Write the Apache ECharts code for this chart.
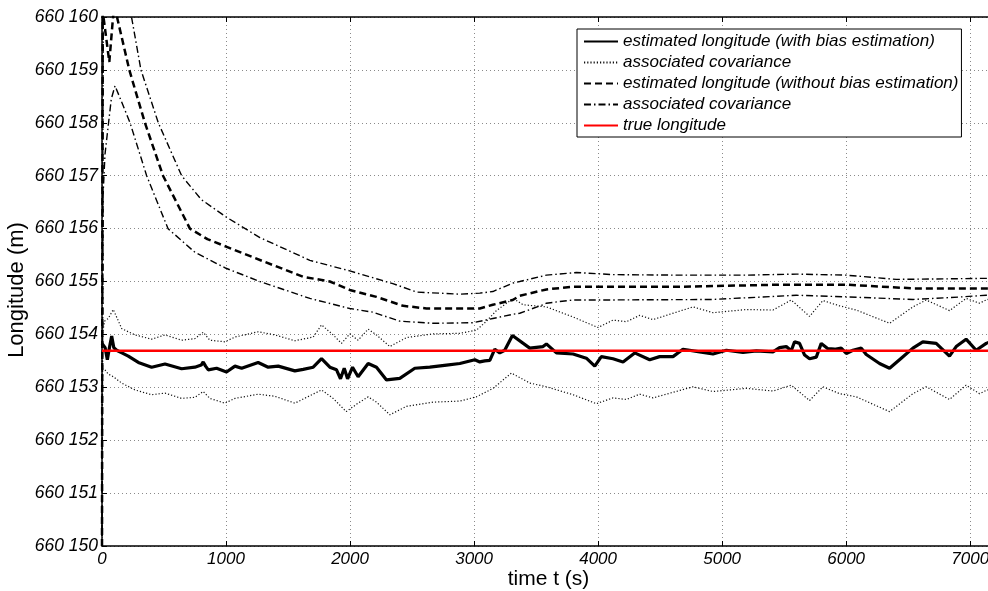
<!DOCTYPE html>
<html>
<head>
<meta charset="utf-8">
<script src="https://cdn.jsdelivr.net/npm/echarts@6/dist/echarts.min.js"></script>
<style>
  html, body { margin: 0; padding: 0; background: #fff; }
  #chart { width: 988px; height: 591px; }
</style>
</head>
<body>
<div id="chart"></div>
<script>
// ---- data: [time t (s), longitude (m)] ----
const withBias = [[0,660153.83],[25,660153.75],[43,660153.52],[60,660153.75],[78,660153.97],[95,660153.75],[118,660153.70],[160,660153.65],[212,660153.59],[293,660153.47],[400,660153.38],[508,660153.44],[642,660153.35],[749,660153.38],[800,660153.42],[816,660153.48],[835,660153.40],[857,660153.33],[924,660153.36],[1004,660153.29],[1072,660153.40],[1126,660153.36],[1259,660153.47],[1340,660153.38],[1421,660153.40],[1555,660153.31],[1622,660153.34],[1703,660153.38],[1770,660153.54],[1837,660153.38],[1891,660153.33],[1923,660153.16],[1953,660153.36],[1980,660153.16],[2020,660153.38],[2065,660153.20],[2146,660153.45],[2213,660153.38],[2294,660153.14],[2401,660153.17],[2522,660153.36],[2643,660153.38],[2778,660153.42],[2885,660153.45],[3006,660153.52],[3046,660153.48],[3086,660153.50],[3127,660153.51],[3167,660153.72],[3207,660153.65],[3247,660153.70],[3309,660153.98],[3449,660153.74],[3556,660153.77],[3583,660153.82],[3664,660153.65],[3798,660153.63],[3905,660153.55],[3973,660153.40],[4026,660153.58],[4120,660153.54],[4201,660153.48],[4295,660153.65],[4416,660153.52],[4496,660153.58],[4604,660153.58],[4684,660153.72],[4819,660153.67],[4926,660153.63],[5034,660153.70],[5168,660153.66],[5276,660153.69],[5410,660153.67],[5463,660153.75],[5517,660153.77],[5557,660153.69],[5584,660153.86],[5624,660153.83],[5665,660153.61],[5705,660153.54],[5759,660153.57],[5799,660153.83],[5853,660153.73],[5907,660153.72],[5960,660153.74],[6001,660153.64],[6054,660153.70],[6122,660153.74],[6162,660153.62],[6269,660153.45],[6350,660153.36],[6444,660153.55],[6538,660153.74],[6618,660153.86],[6726,660153.83],[6766,660153.74],[6833,660153.59],[6887,660153.77],[6967,660153.91],[7048,660153.70],[7129,660153.83],[7200,660153.90]];

const covWithUpper = [[0,660153.95],[20,660154.25],[50,660154.30],[91,660154.47],[159,660154.11],[266,660153.99],[400,660153.91],[508,660153.99],[642,660153.89],[749,660153.92],[816,660154.04],[870,660153.89],[991,660153.86],[1072,660153.95],[1259,660154.05],[1394,660153.99],[1555,660153.88],[1703,660153.95],[1770,660154.18],[1864,660153.99],[1931,660153.83],[1998,660154.01],[2065,660153.89],[2146,660154.10],[2213,660153.99],[2321,660153.77],[2455,660153.94],[2670,660154.01],[2885,660154.02],[3019,660154.08],[3100,660154.25],[3180,660154.45],[3315,660154.68],[3395,660154.56],[3583,660154.52],[3798,660154.33],[3999,660154.13],[4120,660154.27],[4228,660154.24],[4335,660154.36],[4443,660154.28],[4765,660154.52],[4926,660154.41],[5195,660154.47],[5410,660154.46],[5557,660154.65],[5705,660154.34],[5812,660154.64],[5947,660154.54],[6082,660154.46],[6350,660154.21],[6538,660154.52],[6645,660154.65],[6833,660154.45],[6967,660154.68],[7075,660154.59],[7129,660154.65],[7200,660154.70]];

const covWithLower = [[0,660153.35],[24,660153.33],[50,660153.25],[91,660153.20],[159,660153.08],[266,660152.95],[400,660152.86],[508,660152.89],[642,660152.79],[749,660152.81],[816,660152.92],[870,660152.79],[991,660152.70],[1072,660152.79],[1259,660152.87],[1394,660152.83],[1555,660152.70],[1770,660152.95],[1864,660152.79],[1969,660152.54],[2065,660152.70],[2146,660152.82],[2213,660152.72],[2321,660152.48],[2455,660152.64],[2670,660152.72],[2885,660152.74],[3019,660152.82],[3153,660152.98],[3301,660153.27],[3449,660153.08],[3583,660153.01],[3798,660152.86],[3986,660152.69],[4120,660152.80],[4228,660152.77],[4335,660152.87],[4443,660152.80],[4765,660153.01],[4926,660152.92],[5195,660152.98],[5410,660152.93],[5557,660153.04],[5705,660152.75],[5812,660153.01],[5947,660152.88],[6082,660152.82],[6350,660152.54],[6538,660152.88],[6645,660153.01],[6833,660152.77],[6967,660153.04],[7075,660152.88],[7129,660152.94],[7200,660153.00]];

const withoutBias = [[0,660150.0],[6,660160.5],[12,660160.0],[59,660159.15],[89,660160.0],[105,660160.3],[121,660160.0],[220,660159.0],[346,660158.0],[492,660157.0],[709,660156.0],[850,660155.80],[1000,660155.66],[1313,660155.37],[1620,660155.09],[1837,660155.0],[1998,660154.84],[2213,660154.71],[2428,660154.54],[2616,660154.49],[2939,660154.49],[3046,660154.49],[3151,660154.56],[3312,660154.65],[3368,660154.73],[3583,660154.85],[3795,660154.90],[3986,660154.90],[4658,660154.90],[5463,660154.94],[6001,660154.94],[6539,660154.87],[7129,660154.87],[7200,660154.87]];

const covWithoutUpper = [[0,660150.0],[4,660155.0],[10,660160.5],[238,660160.0],[314,660159.0],[454,660158.0],[642,660157.0],[800,660156.55],[1000,660156.22],[1273,660155.83],[1676,660155.40],[1998,660155.20],[2345,660154.96],[2538,660154.80],[2885,660154.76],[3046,660154.78],[3151,660154.81],[3312,660154.97],[3368,660155.0],[3583,660155.12],[3825,660155.17],[4118,660155.13],[4658,660155.12],[5195,660155.12],[5598,660155.14],[6001,660155.12],[6404,660155.04],[6807,660155.05],[7129,660155.06],[7200,660155.06]];

const covWithoutLower = [[0,660150.0],[8,660156.6],[24,660157.4],[48,660157.9],[75,660158.45],[105,660158.7],[140,660158.5],[226,660158.0],[360,660157.0],[532,660156.0],[750,660155.55],[1000,660155.25],[1273,660155.0],[1676,660154.68],[1998,660154.49],[2184,660154.42],[2401,660154.25],[2668,660154.21],[2990,660154.22],[3151,660154.30],[3312,660154.38],[3368,660154.40],[3554,660154.56],[3583,660154.59],[3795,660154.65],[3986,660154.65],[4924,660154.66],[5598,660154.74],[6001,660154.71],[6539,660154.66],[6938,660154.71],[7129,660154.74],[7200,660154.74]];

const trueLongitude = [[0,660153.69],[7200,660153.69]];

const legendNames = [
  'estimated longitude (with bias estimation)',
  'associated covariance',
  'estimated longitude (without bias estimation)',
  'associated covariance ',
  'true longitude'
];
const xLabel = 'time t (s)';
const yLabel = 'Longitude (m)';

// ---- chart ----
const FONT = '"Liberation Sans", Arial, Helvetica, sans-serif';
const chart = echarts.init(document.getElementById('chart'), null, { renderer: 'canvas' });

function line(name, data, width, type, color, z) {
  return {
    type: 'line', name: name, data: data, showSymbol: false, symbol: 'none',
    animation: false, clip: true, z: z || 2,
    lineStyle: { width: width, type: type, color: color },
    itemStyle: { color: color },
    emphasis: { disabled: true }
  };
}

const option = {
  animation: false,
  backgroundColor: '#fff',
  grid: { left: 102, top: 17, width: 893, height: 529, containLabel: false, outerBoundsMode: 'none' },
  xAxis: [{
    type: 'value', min: 0, max: 7200, interval: 1000,
    name: xLabel, nameLocation: 'middle', nameGap: 23, nameMoveOverlap: false,
    nameTextStyle: { fontFamily: FONT, fontSize: 21, color: '#000' },
    axisLine: { show: true, lineStyle: { color: '#000', width: 1.5 } },
    axisTick: { show: true, inside: true, length: 5, lineStyle: { color: '#000', width: 1 } },
    axisLabel: {
      fontFamily: FONT, fontStyle: 'italic', fontSize: 17, color: '#000', margin: 5,
      formatter: function (v) { return String(Math.round(v)); }
    },
    splitLine: { show: true, lineStyle: { color: '#8a8a8a', width: 1, type: [1, 3] } }
  }, {
    type: 'value', position: 'top', min: 0, max: 7200, interval: 1000,
    axisLine: { show: true, lineStyle: { color: '#000', width: 1.5 } },
    axisTick: { show: true, inside: true, length: 5, lineStyle: { color: '#000', width: 1 } },
    axisLabel: { show: false },
    splitLine: { show: false }
  }],
  yAxis: {
    type: 'value', min: 660150, max: 660160, interval: 1,
    name: yLabel, nameLocation: 'middle', nameGap: 74, nameRotate: 90, nameMoveOverlap: false,
    nameTextStyle: { fontFamily: FONT, fontSize: 22, color: '#000', padding: [0, 17, 0, 0] },
    axisLine: { show: true, lineStyle: { color: '#000', width: 1.5 } },
    axisTick: { show: true, inside: true, length: 5, lineStyle: { color: '#000', width: 1 } },
    axisLabel: {
      fontFamily: FONT, fontStyle: 'italic', fontSize: 17.5, color: '#000', margin: 4,
      formatter: function (v) { const s = String(Math.round(v)); return s.slice(0, 3) + ' ' + s.slice(3); }
    },
    splitLine: { show: true, lineStyle: { color: '#8a8a8a', width: 1, type: [1, 3] } }
  },
  legend: {
    data: legendNames,
    orient: 'vertical', left: 577, top: 29,
    padding: [4, 3, 3, 6],
    itemWidth: 34, itemHeight: 14, itemGap: 4,
    backgroundColor: '#fff', borderColor: '#000', borderWidth: 1,
    itemStyle: { opacity: 0 },
    textStyle: { fontFamily: FONT, fontStyle: 'italic', fontSize: 17, color: '#000' },
    selectedMode: false
  },
  series: [
    line(legendNames[0], withBias, 3.2, 'solid', '#000', 3),
    line(legendNames[1], covWithUpper, 1.2, [1.2, 2], '#111', 2),
    line(legendNames[1], covWithLower, 1.2, [1.2, 2], '#111', 2),
    line(legendNames[2], withoutBias, 2.5, [7, 4], '#000', 2),
    line(legendNames[3], covWithoutUpper, 1.4, [7, 3, 1.5, 3], '#000', 2),
    line(legendNames[3], covWithoutLower, 1.4, [7, 3, 1.5, 3], '#000', 2),
    line(legendNames[4], trueLongitude, 2.5, 'solid', '#ff0000', 4)
  ]
};
chart.setOption(option);
</script>
</body>
</html>
